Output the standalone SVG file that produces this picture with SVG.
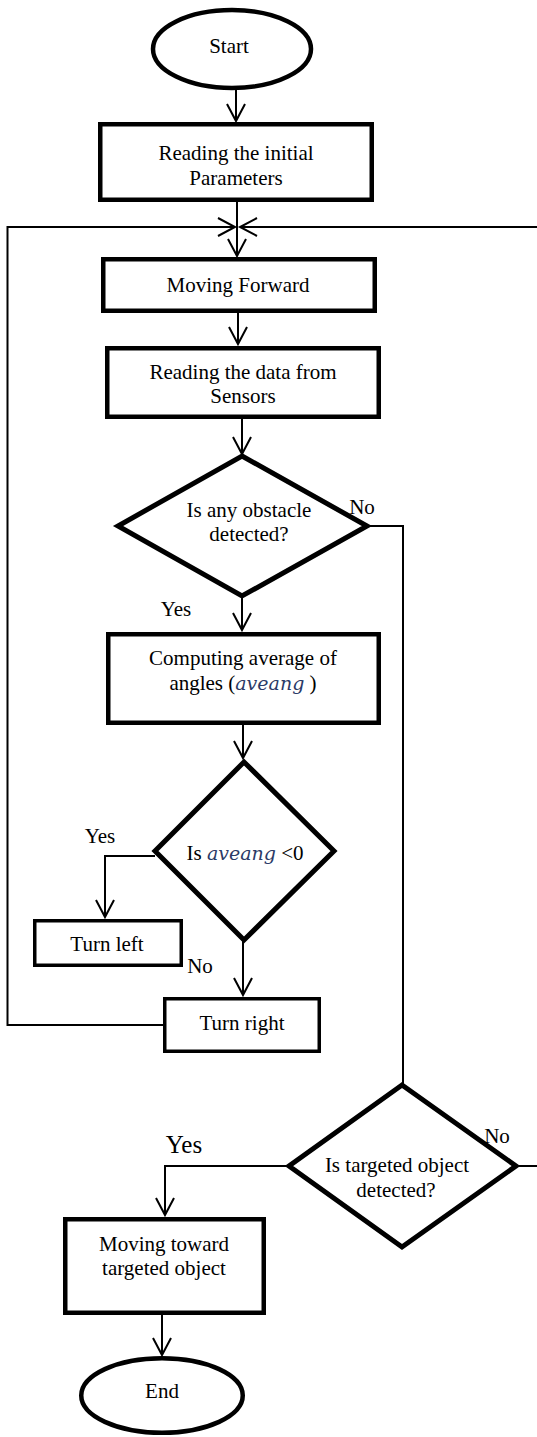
<svg xmlns="http://www.w3.org/2000/svg" width="537" height="1437" viewBox="0 0 537 1437">
<style>
.box{fill:#fff;stroke:#000;stroke-width:4.5}
.thin{fill:#fff;stroke:#000;stroke-width:3.5}
.dia{fill:#fff;stroke:#000;stroke-width:5;stroke-linejoin:miter}
.t{font-family:"Liberation Serif","Times New Roman",serif;font-size:21px;fill:#000;text-anchor:middle}
.big{font-size:25px}
.m{font-family:"DejaVu Serif",serif;font-style:italic;font-size:19px;fill:#2b3a67}
.c{fill:none;stroke:#000;stroke-width:2}
</style>
<defs>
<marker id="ah" markerUnits="userSpaceOnUse" markerWidth="24" markerHeight="24" viewBox="-20 -12 24 24" refX="0" refY="0" orient="auto" overflow="visible">
<path d="M-17,-9 L0,0 L-17,9" fill="none" stroke="#000" stroke-width="2"/>
</marker>
</defs>
<g id="connectors">
<path class="c" d="M236,90 V121" marker-end="url(#ah)"/>
<path class="c" d="M237,202 V256" marker-end="url(#ah)"/>
<path class="c" d="M163,1025 H7.5 V227 H235" marker-end="url(#ah)"/>
<path class="c" d="M516,1166 H542 V227 H240" marker-end="url(#ah)"/>
<path class="c" d="M238,313 V344" marker-end="url(#ah)"/>
<path class="c" d="M242,419 V454" marker-end="url(#ah)"/>
<path class="c" d="M367,526 H403 V1085"/>
<path class="c" d="M242,596 V630" marker-end="url(#ah)"/>
<path class="c" d="M243,725 V758" marker-end="url(#ah)"/>
<path class="c" d="M155,856 H105 V917" marker-end="url(#ah)"/>
<path class="c" d="M243,940 V995" marker-end="url(#ah)"/>
<path class="c" d="M289,1166 H165 V1215" marker-end="url(#ah)"/>
<path class="c" d="M162,1315 V1355" marker-end="url(#ah)"/>
</g>
<g id="start">
<ellipse class="box" cx="232" cy="49" rx="79" ry="39"/>
<text class="t" x="229" y="53">Start</text>
</g>
<g id="read-params">
<rect class="box" x="100.25" y="124.25" width="271.5" height="75.5"/>
<text class="t" x="236" y="160">Reading the initial</text>
<text class="t" x="236" y="185">Parameters</text>
</g>
<g id="move-forward">
<rect class="box" x="103.25" y="259.25" width="271.5" height="51.5"/>
<text class="t" x="238" y="292">Moving Forward</text>
</g>
<g id="read-sensors">
<rect class="box" x="107.25" y="348.25" width="271.5" height="68.5"/>
<text class="t" x="243" y="379">Reading the data from</text>
<text class="t" x="243" y="403">Sensors</text>
</g>
<g id="obstacle">
<polygon class="dia" points="242,456 367,526 242,596 118,526"/>
<text class="t" x="249" y="517">Is any obstacle</text>
<text class="t" x="249" y="541">detected?</text>
<text class="t" x="362" y="514">No</text>
<text class="t" x="176" y="616">Yes</text>
</g>
<g id="compute">
<rect class="box" x="108.25" y="634.25" width="270.5" height="88.5"/>
<text class="t" x="243" y="665">Computing average of</text>
<text class="t" x="243" y="690">angles (<tspan class="m">aveang</tspan> )</text>
</g>
<g id="aveang-check">
<polygon class="dia" points="244,762 334,851 244,940 155,851"/>
<text class="t" x="245" y="860">Is <tspan class="m">aveang</tspan> &lt;0</text>
<text class="t" x="100" y="843">Yes</text>
</g>
<g id="turn-left">
<rect class="thin" x="34.75" y="920.75" width="146.5" height="44.5"/>
<text class="t" x="107" y="951">Turn left</text>
<text class="t" x="200" y="973">No</text>
</g>
<g id="turn-right">
<rect class="thin" x="164.75" y="998.75" width="154.5" height="52.5"/>
<text class="t" x="242" y="1030">Turn right</text>
</g>
<g id="target-check">
<polygon class="dia" points="402,1085 516,1166 402,1247 289,1166"/>
<text class="t" x="397" y="1172">Is targeted object</text>
<text class="t" x="396" y="1197">detected?</text>
<text class="t" x="497" y="1143">No</text>
<text class="t big" x="184" y="1153">Yes</text>
</g>
<g id="move-target">
<rect class="box" x="65.25" y="1219.25" width="198.5" height="93.5"/>
<text class="t" x="164" y="1251">Moving toward</text>
<text class="t" x="164" y="1275">targeted object</text>
</g>
<g id="end">
<ellipse class="box" cx="162" cy="1395.5" rx="80.75" ry="37.25"/>
<text class="t" x="162" y="1398">End</text>
</g>
</svg>
